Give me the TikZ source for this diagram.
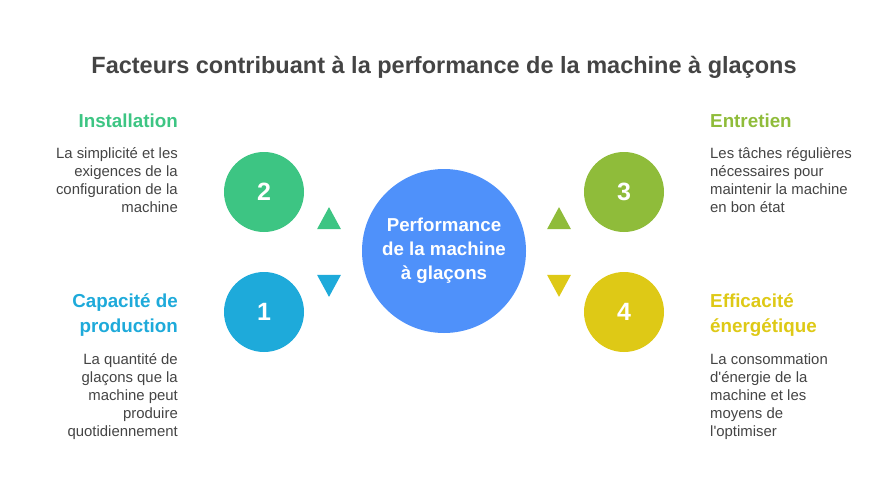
\documentclass[tikz,border=0pt]{standalone}
\usepackage{fontspec}
\setmainfont{Liberation Sans}
\usetikzlibrary{shapes.geometric}
\definecolor{cgreen}{RGB}{61,197,131}
\definecolor{cblue}{RGB}{30,170,218}
\definecolor{colive}{RGB}{143,188,58}
\definecolor{cyellow}{RGB}{222,201,22}
\definecolor{ccenter}{RGB}{79,145,250}
\definecolor{ctitle}{RGB}{68,68,68}
\definecolor{cbody}{RGB}{68,68,68}
\tikzset{
  numcirc/.style={circle,minimum size=80pt,inner sep=0pt,text=white,font=\bfseries\fontsize{25}{28}\selectfont},
  headl/.style={anchor=north east,inner sep=0pt,align=right,font=\bfseries\fontsize{18.8}{25}\selectfont},
  headr/.style={anchor=north west,inner sep=0pt,align=left,font=\bfseries\fontsize{18.8}{25}\selectfont},
  bodyl/.style={anchor=north east,inner sep=0pt,align=right,text=cbody,font=\fontsize{14.9}{18}\selectfont},
  bodyr/.style={anchor=north west,inner sep=0pt,align=left,text=cbody,font=\fontsize{14.9}{18}\selectfont},
  tri/.style={isosceles triangle,isosceles triangle apex angle=57,minimum height=22pt,inner sep=0pt}
}
\begin{document}
\begin{tikzpicture}[x=1pt,y=-1pt]
\useasboundingbox (0,0) rectangle (888,492);
\node[text=ctitle,font=\bfseries\fontsize{23.5}{26}\selectfont] (title) at (444,67) {Facteurs contribuant à la performance de la machine à glaçons};
\node[circle,fill=ccenter,minimum size=164pt,inner sep=0pt,text=white,align=center,font=\bfseries\fontsize{18.7}{24}\selectfont] (center) at (444,251) {Performance\\de la machine\\à glaçons};
\node[numcirc,fill=cgreen] (n2) at (264,192) {2};
\node[numcirc,fill=cblue] (n1) at (264,312) {1};
\node[numcirc,fill=colive] (n3) at (624,192) {3};
\node[numcirc,fill=cyellow] (n4) at (624,312) {4};
\node[tri,fill=cgreen,shape border rotate=90] (t2) at (329,222) {};
\node[tri,fill=cblue,shape border rotate=-90] (t1) at (329,282) {};
\node[tri,fill=colive,shape border rotate=90] (t3) at (559,222) {};
\node[tri,fill=cyellow,shape border rotate=-90] (t4) at (559,282) {};
\node[headl,text=cgreen] (h2) at (178,113.5) {Installation};
\node[bodyl] (b2) at (178,147.5) {La simplicité et les\\exigences de la\\configuration de la\\machine};
\node[headl,text=cblue] (h1) at (178,293.5) {Capacité de\\production};
\node[bodyl] (b1) at (178,353.5) {La quantité de\\glaçons que la\\machine peut\\produire\\quotidiennement};
\node[headr,text=colive] (h3) at (710,113.5) {Entretien};
\node[bodyr] (b3) at (710,147.5) {Les tâches régulières\\nécessaires pour\\maintenir la machine\\en bon état};
\node[headr,text=cyellow] (h4) at (710,293.5) {Efficacité\\énergétique};
\node[bodyr] (b4) at (710,353.5) {La consommation\\d\textquotesingle énergie de la\\machine et les\\moyens de\\l\textquotesingle optimiser};
\end{tikzpicture}
\end{document}
